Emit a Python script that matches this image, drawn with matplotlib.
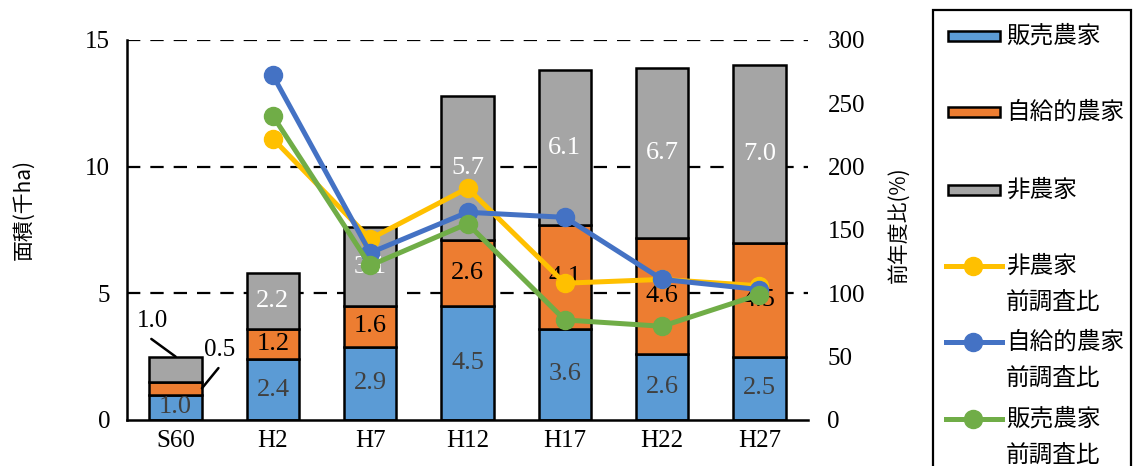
import numpy as np
import matplotlib
matplotlib.use("Agg")
from matplotlib import pyplot as plt
from matplotlib.patches import Rectangle
from matplotlib.lines import Line2D

# data
years = ['S60', 'H2', 'H7', 'H12', 'H17', 'H22', 'H27']
hanbai = [1.0, 2.4, 2.9, 4.5, 3.6, 2.6, 2.5]      # 販売農家 (千ha)
jikyu = [0.5, 1.2, 1.6, 2.6, 4.1, 4.6, 4.5]       # 自給的農家
hinoka = [1.0, 2.2, 3.1, 5.7, 6.1, 6.7, 7.0]      # 非農家

# 前調査比 (%) - no value for S60
r_hinoka = [np.nan, 222, 143, 183, 108, 111, 106]
r_jikyu = [np.nan, 272, 132, 164, 160, 111, 103]
r_hanbai = [np.nan, 240, 122, 155, 79, 74, 99]

c_blue = '#5B9BD5'
c_orange = '#ED7D31'
c_gray = '#A5A5A5'
c_l_yellow = '#FFC000'
c_l_blue = '#4472C4'
c_l_green = '#70AD47'

jp = ['Noto Sans CJK JP', 'DejaVu Sans']
num = 'Liberation Serif'

W, H = 1134, 466
fig = plt.figure(figsize=(W / 100, H / 100), dpi=100)

def fx(px):
    return px / W

def fy(py):
    return 1 - py / H

ax = fig.add_axes([fx(127), fy(420), fx(808) - fx(127), fy(40) - fy(420)])
ax2 = ax.twinx()

x = np.arange(len(years))
bw = 0.54
ax.bar(x, hanbai, bw, color=c_blue, edgecolor='black', linewidth=1.8, zorder=2)
bottom2 = np.array(hanbai)
ax.bar(x, jikyu, bw, bottom=bottom2, color=c_orange, edgecolor='black', linewidth=1.8, zorder=2)
bottom3 = bottom2 + np.array(jikyu)
ax.bar(x, hinoka, bw, bottom=bottom3, color=c_gray, edgecolor='black', linewidth=1.8, zorder=2)

# segment labels
for i in range(len(years)):
    ax.text(x[i], hanbai[i] / 2, '%.1f' % hanbai[i], ha='center', va='center',
            color='#404040', fontsize=19, family=num, zorder=5)
    if i == 0:
        continue
    ax.text(x[i], bottom2[i] + jikyu[i] / 2, '%.1f' % jikyu[i], ha='center', va='center',
            color='black', fontsize=19, family=num, zorder=5)
    ax.text(x[i], bottom3[i] + hinoka[i] / 2, '%.1f' % hinoka[i], ha='center', va='center',
            color='white', fontsize=19, family=num, zorder=5)

# S60 small segments: labels outside with leader lines
top0 = bottom3[0] + hinoka[0]
ax.text(x[0] - 0.24, top0 + 1.4, '%.1f' % hinoka[0], ha='center', va='center',
        fontsize=18, family=num)
ax.annotate('', xy=(x[0], top0), xytext=(x[0] - 0.25, top0 + 0.7),
            arrowprops=dict(arrowstyle='-', color='black', lw=1.8, shrinkA=0, shrinkB=0))
ax.text(x[0] + 0.45, top0 + 0.25, '%.1f' % jikyu[0], ha='center', va='center',
        fontsize=18, family=num)
ax.annotate('', xy=(x[0] + bw / 2, bottom2[0] + jikyu[0] / 2), xytext=(x[0] + 0.44, top0 - 0.45),
            arrowprops=dict(arrowstyle='-', color='black', lw=1.8, shrinkA=0, shrinkB=0))

# 前調査比 lines
for vals, col in [(r_hinoka, c_l_yellow), (r_jikyu, c_l_blue), (r_hanbai, c_l_green)]:
    ax2.plot(x, vals, color=col, lw=3.6, marker='o', markersize=13, zorder=4)

ax.set_xlim(-0.5, len(years) - 0.5)
ax.set_ylim(0, 15)
ax2.set_ylim(0, 300)
ax.set_yticks([0, 5, 10, 15])
ax2.set_yticks(np.arange(0, 301, 50))
ax.set_xticks(x)
ax.set_xticklabels(years, family=num, fontsize=18)
for t in ax.get_yticklabels() + ax2.get_yticklabels():
    t.set_family(num)
    t.set_fontsize(18)
ax.tick_params(axis='y', length=0, pad=12)
ax2.tick_params(axis='y', length=0, pad=14)
ax.tick_params(axis='x', length=0, pad=7)

for yv in [5, 10, 15]:
    ax.axhline(yv, color='black', lw=1.6, ls=(0, (6, 4.5)), zorder=1)

for s in ['top', 'right']:
    ax.spines[s].set_visible(False)
for s in ['top', 'right', 'left', 'bottom']:
    ax2.spines[s].set_visible(False)
ax.spines['left'].set_linewidth(1.8)
ax.spines['bottom'].set_linewidth(1.8)
ax2.set_zorder(ax.get_zorder() + 1)
ax2.patch.set_visible(False)

fig.text(fx(24), fy(209), '面積(千ha)', rotation=90, ha='center', va='center',
         fontsize=15, family=jp)
fig.text(fx(899), fy(225), '前年度比(%)', rotation=90, ha='center', va='center',
         fontsize=15, family=jp)

# legend box, drawn by hand so the two-line labels sit like the original
fig.patches.append(Rectangle((fx(933), fy(470)), fx(1131) - fx(933), fy(10) - fy(470),
                             transform=fig.transFigure, fill=False, edgecolor='black', lw=1.6))
patch_items = [(c_blue, '販売農家', 36), (c_orange, '自給的農家', 112), (c_gray, '非農家', 190)]
for col, lab, py in patch_items:
    fig.patches.append(Rectangle((fx(948), fy(py + 5)), fx(1000) - fx(948), fy(py - 5) - fy(py + 5),
                                 transform=fig.transFigure, facecolor=col, edgecolor='black', lw=1.8))
    fig.text(fx(1006), fy(py), lab, ha='left', va='center', fontsize=17, family=jp)
line_items = [(c_l_yellow, '非農家', 266), (c_l_blue, '自給的農家', 342),
              (c_l_green, '販売農家', 419)]
for col, lab, py in line_items:
    fig.lines.append(Line2D([fx(946), fx(1002)], [fy(py), fy(py)], transform=fig.transFigure,
                            color=col, lw=3.6))
    fig.lines.append(Line2D([fx(973)], [fy(py)], transform=fig.transFigure, color=col,
                            marker='o', markersize=13))
    fig.text(fx(1006), fy(py), lab, ha='left', va='center', fontsize=17, family=jp)
    fig.text(fx(1006), fy(py + 36), '前調査比', ha='left', va='center', fontsize=17, family=jp)

fig.savefig('out.png', dpi=100)
